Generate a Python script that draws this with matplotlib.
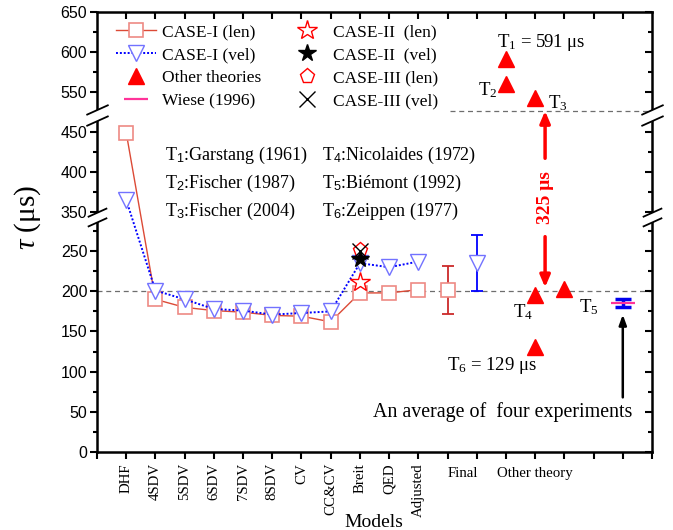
import numpy as np
import matplotlib
matplotlib.use('Agg')
import matplotlib.pyplot as plt
from matplotlib.lines import Line2D
from matplotlib.path import Path

plt.rcParams['mathtext.fontset'] = 'custom'
plt.rcParams['mathtext.rm'] = 'Liberation Serif'
plt.rcParams['mathtext.it'] = 'Liberation Serif:italic'
plt.rcParams['mathtext.sf'] = 'Liberation Sans'
SERIF = ['Liberation Serif', 'DejaVu Serif']
SANS = ['Liberation Sans', 'DejaVu Sans']

# ---------------- data ----------------
models = ['DHF', '4SDV', '5SDV', '6SDV', '7SDV', '8SDV', 'CV', 'CC&CV', 'Breit', 'QED', 'Adjusted']
model_x = list(range(1, 12))
case1_len = [449, 190, 180, 176, 174, 170, 169, 162, 198, 198, 202]
case1_vel = [365, 201, 190, 178, 176, 171, 173, 175, 235, 230, 237]
breit_x = 9
case2_len = 211
case2_vel = 240
case3_len = 251
case3_vel = 250
final_x = [12, 13]
final_len, final_len_err = 202, 30
final_vel, final_vel_err = 235, 35
other_x = [14, 14, 15, 15, 16, 15]
other_y = [591, 560, 542, 195, 203, 131]
wiese_x, wiese_y, wiese_err = 18, 185, 5
ref_line = 200

yticks_major = [0, 50, 100, 150, 200, 250, 350, 400, 450, 550, 600, 650]
yticks_minor = [25, 75, 125, 175, 225, 275, 375, 425, 575, 625]

# broken-axis mapping (data -> display units)
seg_data = [0, 290, 345, 466, 526, 650]
seg_disp = [0, 233, 236, 333, 341, 440]

def fwd(y):
    return np.interp(y, seg_data, seg_disp)

def inv(y):
    return np.interp(y, seg_disp, seg_data)

W, H = 673, 530
fig = plt.figure(figsize=(W / 100, H / 100), dpi=100)

def fx(x):
    return x / W

def fy(y):
    return 1 - y / H

ax = fig.add_axes([fx(97), fy(452), (652 - 97) / W, (452 - 12) / H])
ax.set_yscale('function', functions=(fwd, inv))
ax.set_ylim(0, 650)
ax.set_xlim(0, 19)

len_line = '#dc4a36'
len_mark = '#ee8a84'
vel_line = '#0000ff'
vel_mark = '#7272ff'

# reference dashed lines
ax.axhline(ref_line, color='#6e6e6e', ls=(0, (4, 3)), lw=0.9, zorder=1)
ax.plot([12.1, 19], [526, 526], color='#6e6e6e', ls=(0, (4, 3)), lw=0.9, zorder=1, clip_on=False)

# CASE-I
ax.plot(model_x, case1_len, color=len_line, lw=1.0, marker='s', ms=10, mfc='white',
        mec=len_mark, mew=1.2, zorder=3)
ax.plot(model_x, case1_vel, color=vel_line, lw=1.4, ls=(0, (1, 1)), marker='v', ms=12,
        mfc='white', mec=vel_mark, mew=1.0, zorder=4)

# Breit extra cases
ax.plot([breit_x], [case2_len], ls='none', marker='*', ms=15, mfc='white', mec='red', mew=1.0, zorder=5)
ax.plot([breit_x], [case3_len], ls='none', marker='p', ms=11, mfc='none', mec='red', mew=1.0, zorder=5)
ax.plot([breit_x], [case3_vel], ls='none', marker='x', ms=11, color='black', mew=1.0, zorder=6)
ax.plot([breit_x], [case2_vel], ls='none', marker='*', ms=13, color='black', zorder=6)

# Final values with error bars
ax.errorbar([final_x[0]], [final_len], yerr=[final_len_err], fmt='none', ecolor='#cc2a2a',
            elinewidth=1.3, capsize=4, capthick=1.3, zorder=3)
ax.plot([final_x[0]], [final_len], ls='none', marker='s', ms=10, mfc='white', mec=len_mark,
        mew=1.2, zorder=4)
ax.errorbar([final_x[1]], [final_vel], yerr=[final_vel_err], fmt='none', ecolor=vel_line,
            elinewidth=1.3, capsize=4, capthick=1.3, zorder=3)
ax.plot([final_x[1]], [final_vel], ls='none', marker='v', ms=12, mfc='white', mec=vel_mark,
        mew=1.0, zorder=4)

# other theories
ax.plot(other_x, other_y, ls='none', marker='^', ms=12, color='red', zorder=5)

# experiment
ax.errorbar([wiese_x], [wiese_y], yerr=[wiese_err], fmt='none', ecolor='#0000ee',
            elinewidth=2.5, capsize=5.5, capthick=2.5, zorder=4)
ax.plot([wiese_x], [wiese_y], ls='none', marker='_', ms=17, mew=1.6, color='#ff3399', zorder=5)

# arrows
ax.annotate('', xy=(15.34, 526), xytext=(15.34, 417), annotation_clip=False,
            arrowprops=dict(arrowstyle='-|>,head_length=0.7,head_width=0.3', color='red', lw=2.5,
                            shrinkA=0, shrinkB=0))
ax.annotate('', xy=(15.34, 205), xytext=(15.34, 268),
            arrowprops=dict(arrowstyle='-|>,head_length=0.7,head_width=0.3', color='red', lw=2.5,
                            shrinkA=0, shrinkB=0))
ax.annotate('', xy=(18, 171), xytext=(18, 68),
            arrowprops=dict(arrowstyle='-|>,head_length=0.6,head_width=0.22', color='black', lw=1.8,
                            shrinkA=0, shrinkB=0))

# ticks
ax.set_yticks(yticks_major)
ax.set_yticks(yticks_minor, minor=True)
ax.set_yticklabels([str(v) for v in yticks_major], family=SANS, fontsize=11.5)
ax.set_xticks(range(0, 20))
ax.set_xticklabels([''] + models + [''] * 8, family=SERIF, fontsize=10.7, rotation=90)
ax.tick_params(axis='y', which='major', direction='out', length=5, width=1.5, right=False, pad=2)
ax.tick_params(axis='y', which='minor', direction='out', length=3, width=1.5, right=False)
ax.tick_params(axis='x', which='major', direction='out', length=5, width=1.5, top=False, pad=3)
ax.xaxis.set_minor_locator(plt.NullLocator())
for s in ax.spines.values():
    s.set_linewidth(1.8)

axr = ax.twinx()
axr.set_yscale('function', functions=(fwd, inv))
axr.set_ylim(0, 650)
axr.set_yticks(yticks_major)
axr.set_yticks(yticks_minor, minor=True)
axr.tick_params(axis='y', which='major', direction='in', length=5, width=1.5, labelright=False)
axr.tick_params(axis='y', which='minor', direction='in', length=3, width=1.5)
axt = ax.twiny()
axt.set_xlim(0, 19)
axt.set_xticks(range(1, 19))
axt.xaxis.set_minor_locator(plt.NullLocator())
axt.tick_params(axis='x', direction='in', length=5, width=1.5, labeltop=False)
for a in (axr, axt):
    for s in a.spines.values():
        s.set_visible(False)

# break marks
fill_path = Path([(-1, -0.95), (1, -0.05), (1, 0.95), (-1, 0.05), (-1, -0.95)],
                 [Path.MOVETO, Path.LINETO, Path.LINETO, Path.LINETO, Path.CLOSEPOLY])
line_path = Path([(-1, -0.95), (1, -0.05), (-1, 0.05), (1, 0.95)],
                 [Path.MOVETO, Path.LINETO, Path.MOVETO, Path.LINETO])
for yb, sz in ((318, 14), (496, 16)):
    for xb in (0, 1):
        ax.plot([xb], [yb], transform=ax.get_yaxis_transform(), marker=fill_path, ms=sz,
                mfc='white', mec='none', ls='none', clip_on=False, zorder=10)
        ax.plot([xb], [yb], transform=ax.get_yaxis_transform(), marker=line_path, ms=sz,
                mfc='none', mec='black', mew=1.3, ls='none', clip_on=False, zorder=11)

# legends
h1 = Line2D([], [], color=len_line, lw=1.0, marker='s', ms=10, mfc='white', mec=len_mark, mew=1.2)
h2 = Line2D([], [], color=vel_line, lw=1.4, ls=(0, (1, 1)), marker='v', ms=12, mfc='white', mec=vel_mark)
h3 = Line2D([], [], ls='none', marker='^', ms=12, color='red')
h4 = Line2D([], [], ls='none', marker='_', ms=17, mew=1.6, color='#ff3399')
h5 = Line2D([], [], ls='none', marker='*', ms=15, mfc='white', mec='red', mew=1.0)
h6 = Line2D([], [], ls='none', marker='*', ms=13, color='black')
h7 = Line2D([], [], ls='none', marker='p', ms=11, mfc='none', mec='red', mew=1.0)
h8 = Line2D([], [], ls='none', marker='x', ms=11, color='black', mew=1.0)
lkw = dict(loc='upper left', frameon=False, borderpad=0, borderaxespad=0, handlelength=2.3,
           handletextpad=0.35, labelspacing=0.4, numpoints=1, prop=dict(family=SERIF, size=12.5),
           bbox_transform=fig.transFigure)
leg1 = ax.legend([h1, h2, h3, h4], ['CASE-I (len)', 'CASE-I (vel)', 'Other theories', 'Wiese (1996)'],
                 bbox_to_anchor=(fx(116), fy(24)), **lkw)
ax.add_artist(leg1)
leg2 = ax.legend([h5, h6, h7, h8], ['CASE-II  (len)', 'CASE-II  (vel)', 'CASE-III (len)', 'CASE-III (vel)'],
                 bbox_to_anchor=(fx(287), fy(24)), **lkw)

# texts
def t(x, y, s, **kw):
    kw.setdefault('family', SERIF)
    fig.text(fx(x), fy(y), s, **kw)

notes_l = [r'T$_\mathsf{1}$:Garstang (1961)', r'T$_\mathsf{2}$:Fischer (1987)', r'T$_\mathsf{3}$:Fischer (2004)']
notes_r = [r'T$_\mathsf{4}$:Nicolaides (1972)', r'T$_\mathsf{5}$:Biémont (1992)', r'T$_\mathsf{6}$:Zeippen (1977)']
for i, yb in enumerate([160, 188, 216]):
    t(165, yb, notes_l[i], fontsize=13, va='baseline')
    t(322, yb, notes_r[i], fontsize=13, va='baseline')

t(497, 47, r'T$_1$ = 591 μs', fontsize=13.5, va='baseline')
t(478, 95, r'T$_2$', fontsize=13.5, va='baseline')
t(548, 108, r'T$_3$', fontsize=13.5, va='baseline')
t(513, 317, r'T$_4$', fontsize=13.5, va='baseline')
t(579, 312, r'T$_5$', fontsize=13.5, va='baseline')
t(447, 370, r'T$_6$ = 129 μs', fontsize=13.5, va='baseline')
t(373, 417, 'An average of  four experiments', fontsize=14.4, va='baseline')
t(463, 477, 'Final', fontsize=10.7, ha='center', va='baseline')
t(535, 477, 'Other theory', fontsize=10.7, ha='center', va='baseline')
t(374, 527, 'Models', fontsize=14, ha='center', va='baseline')
t(545, 198, '325 μs', fontsize=14, color='red', weight='bold', rotation=90, ha='center', va='center')
t(28, 218, r'$\tau$ (μs)', fontsize=21, rotation=90, ha='center', va='center')

fig.savefig('out.png', dpi=100)
